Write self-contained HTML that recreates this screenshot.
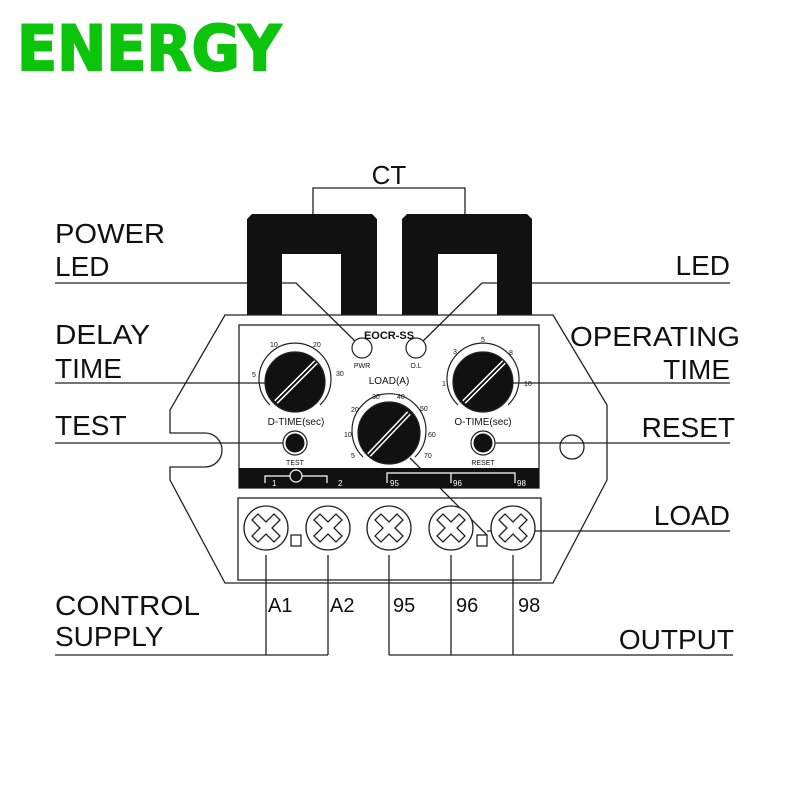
<!DOCTYPE html>
<html><head><meta charset="utf-8"><style>
html,body{margin:0;padding:0;background:#fff}
svg{display:block}
text{font-family:"Liberation Sans",Arial,sans-serif}
</style></head><body>
<svg width="800" height="800" viewBox="0 0 800 800" xmlns="http://www.w3.org/2000/svg">
<rect width="800" height="800" fill="#fff"/>
<text x="17" y="70" font-size="62" font-weight="bold" fill="#0cc40c" stroke="#0cc40c" stroke-width="2" textLength="264" lengthAdjust="spacingAndGlyphs" style="font-family:'DejaVu Sans',sans-serif">ENERGY</text>

<g fill="#111" font-size="28">
<text x="55" y="243" textLength="110" lengthAdjust="spacingAndGlyphs">POWER</text>
<text x="55" y="276">LED</text>
<text x="55" y="344" textLength="95" lengthAdjust="spacingAndGlyphs">DELAY</text>
<text x="55" y="378">TIME</text>
<text x="55" y="435">TEST</text>
<text x="55" y="615" textLength="145" lengthAdjust="spacingAndGlyphs">CONTROL</text>
<text x="55" y="646">SUPPLY</text>
<text x="730" y="275" text-anchor="end">LED</text>
<text x="740" y="346" text-anchor="end" textLength="170" lengthAdjust="spacingAndGlyphs">OPERATING</text>
<text x="730" y="379" text-anchor="end">TIME</text>
<text x="735" y="437" text-anchor="end">RESET</text>
<text x="730" y="525" text-anchor="end">LOAD</text>
<text x="734" y="649" text-anchor="end">OUTPUT</text>
<text x="389" y="184" text-anchor="middle" font-size="26">CT</text>
</g>
<g fill="#111" font-size="20">
<text x="268" y="612">A1</text><text x="330" y="612">A2</text>
<text x="393" y="612">95</text><text x="456" y="612">96</text><text x="518" y="612">98</text>
</g>

<g stroke="#222" stroke-width="1.3" fill="none">
<polyline points="313,214 313,188 465,188 465,214"/>
</g>
<path d="M247,219 L252,214 L372,214 L377,219 L377,320 L341,320 L341,254 L282,254 L282,320 L247,320Z" fill="#111"/>
<path d="M402,219 L407,214 L527,214 L532,219 L532,320 L497,320 L497,254 L438,254 L438,320 L402,320Z" fill="#111"/>

<g stroke="#222" stroke-width="1.3" fill="none">
<path d="M225,315 L553,315 L607,405 L607,480 L553,583 L225,583 L170,480 L170,467 L205,467 A17,17 0 0 0 205,433 L170,433 L170,410 Z" fill="#fff"/>
<circle cx="572" cy="447" r="12"/>
<rect x="239" y="325" width="300" height="163" fill="#fff"/>
<rect x="238" y="498" width="303" height="82"/>
<line x1="55" y1="283" x2="247" y2="283"/>
<polyline points="282,283 296,283 358,344"/>
<line x1="532" y1="283" x2="730" y2="283"/>
<polyline points="497,283 482,283 420,344"/>
<line x1="55" y1="383" x2="265" y2="383"/>
<line x1="513" y1="383" x2="730" y2="383"/>
<line x1="55" y1="443" x2="284" y2="443"/>
<line x1="494" y1="443" x2="730" y2="443"/>
<polyline points="410,458 487,535"/>
<line x1="487" y1="531" x2="730" y2="531"/>
<line x1="55" y1="655" x2="328" y2="655"/>
<line x1="389" y1="655" x2="733" y2="655"/>
<line x1="266" y1="555" x2="266" y2="655"/>
<line x1="328" y1="555" x2="328" y2="655"/>
<line x1="389" y1="555" x2="389" y2="655"/>
<line x1="451" y1="555" x2="451" y2="655"/>
<line x1="513" y1="555" x2="513" y2="655"/>
</g>
<rect x="239" y="468" width="300" height="20" fill="#111"/>
<g stroke="#fff" stroke-width="1.2" fill="none">
<polyline points="265,483 265,476 327,476 327,483"/>
<circle cx="296" cy="476" r="6" fill="#111"/>
<polyline points="387,483 387,473 515,473 515,483"/>
<line x1="451" y1="473" x2="451" y2="483"/>
</g>
<g fill="#fff" font-size="8">
<text x="272" y="486">1</text><text x="338" y="486">2</text>
<text x="390" y="486">95</text><text x="453" y="486">96</text><text x="517" y="486">98</text>
</g>

<g stroke="#222" stroke-width="1.3" fill="#fff">
<g id="t"><circle cx="266" cy="528" r="22"/><path d="M252,520 l6,-6 l8,8 l8,-8 l6,6 l-8,8 l8,8 l-6,6 l-8,-8 l-8,8 l-6,-6 l8,-8z" fill="none"/></g>
<use href="#t" x="62"/><use href="#t" x="123"/><use href="#t" x="185"/><use href="#t" x="247"/>
<rect x="291" y="535" width="10" height="11"/>
<rect x="477" y="535" width="10" height="11"/>
</g>

<g stroke="#222" stroke-width="1.2">
<path d="M270,405 A36,36 0 1 1 320,405" fill="none"/>
<circle cx="295" cy="382" r="30" fill="#111"/>
<path d="M458,405 A36,36 0 1 1 508,405" fill="none"/>
<circle cx="483" cy="382" r="30" fill="#111"/>
<path d="M363,457 A37,37 0 1 1 415,457" fill="none"/>
<circle cx="389" cy="433" r="31" fill="#111"/>
</g>
<g stroke="#fff" stroke-width="5" fill="none">
<line x1="276" y1="402" x2="316" y2="362"/>
<line x1="464" y1="402" x2="504" y2="362"/>
<line x1="369" y1="455" x2="409" y2="413"/>
</g>
<g stroke="#111" stroke-width="2" fill="none">
<line x1="276" y1="402" x2="316" y2="362"/>
<line x1="464" y1="402" x2="504" y2="362"/>
<line x1="369" y1="455" x2="409" y2="413"/>
</g>
<g fill="#111" font-size="7">
<text x="270" y="347">10</text><text x="313" y="347">20</text><text x="252" y="377">5</text><text x="336" y="376">30</text>
<text x="481" y="342">5</text><text x="453" y="354">3</text><text x="509" y="355">8</text><text x="442" y="386">1</text><text x="524" y="386">10</text>
<text x="372" y="399">30</text><text x="397" y="399">40</text><text x="351" y="412">20</text><text x="420" y="411">50</text>
<text x="344" y="437">10</text><text x="428" y="437">60</text><text x="351" y="458">5</text><text x="424" y="458">70</text>
</g>

<g stroke="#222" stroke-width="1.2" fill="#fff">
<circle cx="362" cy="348" r="10"/><circle cx="416" cy="348" r="10"/>
<circle cx="295" cy="443" r="12"/><circle cx="483" cy="443" r="12"/>
</g>
<circle cx="295" cy="443" r="9.5" fill="#111"/><circle cx="483" cy="443" r="9.5" fill="#111"/>
<g fill="#111" text-anchor="middle">
<text x="389" y="339" font-size="11" font-weight="bold">EOCR-SS</text>
<text x="362" y="368" font-size="7">PWR</text><text x="416" y="368" font-size="7">O.L</text>
<text x="389" y="384" font-size="10">LOAD(A)</text>
<text x="296" y="425" font-size="10">D-TIME(sec)</text>
<text x="483" y="425" font-size="10">O-TIME(sec)</text>
<text x="295" y="465" font-size="7">TEST</text>
<text x="483" y="465" font-size="7">RESET</text>
</g>
</svg>
</body></html>
